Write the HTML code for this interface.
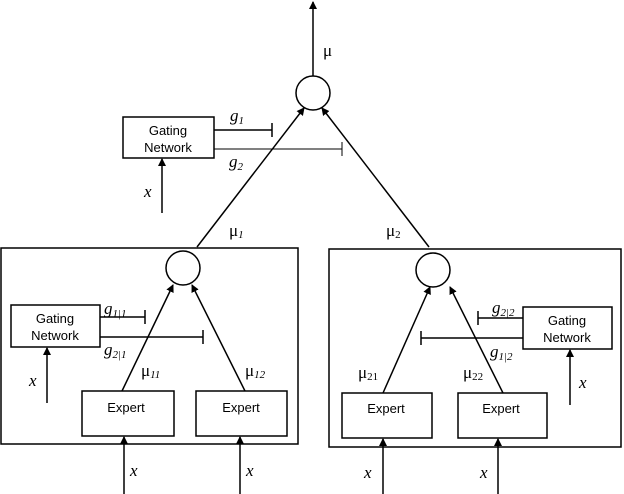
<!DOCTYPE html>
<html><head><meta charset="utf-8"><style>
html,body{margin:0;padding:0;background:#fff;}
svg{display:block}
text{font-family:"Liberation Sans",sans-serif;fill:#000}
.s{font-family:"Liberation Serif",serif;font-style:italic;font-size:17px}
.m{font-family:"Liberation Serif",serif;font-size:17px}
.b{font-size:13px}
</style></head><body>
<svg width="624" height="494" viewBox="0 0 624 494" xmlns="http://www.w3.org/2000/svg">
<defs><marker id="a" markerWidth="8" markerHeight="10" refX="7" refY="4" orient="auto" markerUnits="userSpaceOnUse"><path d="M0,0 L8,4 L0,8 z" fill="#000"/></marker></defs>
<g stroke="#000" stroke-width="1.5" fill="none">
<!-- top -->
<circle cx="313" cy="93" r="17"/>
<line x1="313" y1="76" x2="313" y2="2" marker-end="url(#a)"/>
<rect x="123" y="117" width="91" height="41"/>
<line x1="214" y1="130" x2="272" y2="130"/><line x1="272" y1="123" x2="272" y2="137"/>
<line x1="214" y1="149" x2="342" y2="149" stroke-width="1"/><line x1="342" y1="142" x2="342" y2="156" stroke-width="1"/>
<line x1="162" y1="213" x2="162" y2="159" marker-end="url(#a)"/>
<line x1="197" y1="247" x2="304" y2="108" marker-end="url(#a)"/>
<line x1="429" y1="247" x2="322" y2="108" marker-end="url(#a)"/>
<!-- left box -->
<rect x="1" y="248" width="297" height="196"/>
<circle cx="183" cy="268" r="17"/>
<rect x="11" y="305" width="89" height="42"/>
<line x1="100" y1="317" x2="145" y2="317"/><line x1="145" y1="310" x2="145" y2="324"/>
<line x1="100" y1="337" x2="203" y2="337"/><line x1="203" y1="330" x2="203" y2="344"/>
<line x1="47" y1="403" x2="47" y2="348" marker-end="url(#a)"/>
<rect x="82" y="391" width="92" height="45"/>
<rect x="196" y="391" width="91" height="45"/>
<line x1="122" y1="391" x2="173" y2="285" marker-end="url(#a)"/>
<line x1="245" y1="391" x2="192" y2="285" marker-end="url(#a)"/>
<line x1="124" y1="494" x2="124" y2="437" marker-end="url(#a)"/>
<line x1="240" y1="494" x2="240" y2="437" marker-end="url(#a)"/>
<!-- right box -->
<rect x="329" y="249" width="292" height="198"/>
<circle cx="433" cy="270" r="17"/>
<rect x="523" y="307" width="89" height="42"/>
<line x1="523" y1="318" x2="478" y2="318"/><line x1="478" y1="311" x2="478" y2="325"/>
<line x1="523" y1="338" x2="421" y2="338"/><line x1="421" y1="331" x2="421" y2="345"/>
<line x1="570" y1="405" x2="570" y2="350" marker-end="url(#a)"/>
<rect x="342" y="393" width="90" height="45"/>
<rect x="458" y="393" width="89" height="45"/>
<line x1="383" y1="393" x2="430" y2="287" marker-end="url(#a)"/>
<line x1="503" y1="393" x2="450" y2="287" marker-end="url(#a)"/>
<line x1="383" y1="494" x2="383" y2="439" marker-end="url(#a)"/>
<line x1="498" y1="494" x2="498" y2="439" marker-end="url(#a)"/>
</g>
<text class="m" x="323" y="56">μ</text>
<text class="b" x="168" y="135" text-anchor="middle">Gating</text>
<text class="b" x="168" y="152" text-anchor="middle">Network</text>
<text class="s" x="230" y="121">g<tspan font-size="11" dy="3">1</tspan></text>
<text class="s" x="229" y="167">g<tspan font-size="11" dy="3">2</tspan></text>
<text class="s" x="144" y="197">x</text>
<text class="m" x="229" y="236">μ<tspan font-size="11" font-style="italic" dy="2">1</tspan></text>
<text class="m" x="386" y="236">μ<tspan font-size="11" dy="2">2</tspan></text>
<text class="b" x="55" y="323" text-anchor="middle">Gating</text>
<text class="b" x="55" y="340" text-anchor="middle">Network</text>
<text class="s" x="104" y="314">g<tspan font-size="11" dy="3">1|1</tspan></text>
<text class="s" x="104" y="355">g<tspan font-size="11" dy="3">2|1</tspan></text>
<text class="s" x="29" y="386">x</text>
<text class="m" x="141" y="376">μ<tspan font-size="11" font-style="italic" dy="2">11</tspan></text>
<text class="m" x="245" y="376">μ<tspan font-size="11" font-style="italic" dy="2">12</tspan></text>
<text class="b" x="126" y="412" text-anchor="middle">Expert</text>
<text class="b" x="241" y="412" text-anchor="middle">Expert</text>
<text class="s" x="130" y="476">x</text>
<text class="s" x="246" y="476">x</text>
<text class="b" x="567" y="325" text-anchor="middle">Gating</text>
<text class="b" x="567" y="342" text-anchor="middle">Network</text>
<text class="s" x="492" y="313">g<tspan font-size="11" dy="3">2|2</tspan></text>
<text class="s" x="490" y="357">g<tspan font-size="11" dy="3">1|2</tspan></text>
<text class="s" x="579" y="388">x</text>
<text class="m" x="358" y="378">μ<tspan font-size="11" dy="2">21</tspan></text>
<text class="m" x="463" y="378">μ<tspan font-size="11" dy="2">22</tspan></text>
<text class="b" x="386" y="413" text-anchor="middle">Expert</text>
<text class="b" x="501" y="413" text-anchor="middle">Expert</text>
<text class="s" x="364" y="478">x</text>
<text class="s" x="480" y="478">x</text>
</svg>
</body></html>
